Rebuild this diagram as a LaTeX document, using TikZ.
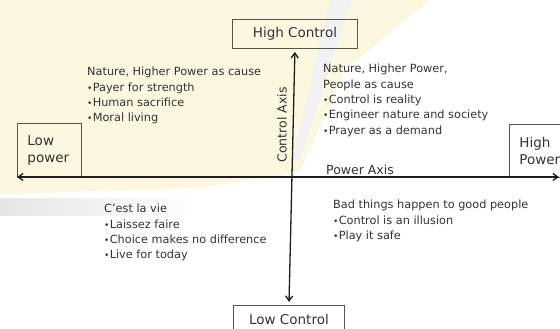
\documentclass[tikz,border=0pt]{standalone}
\usepackage{fontspec}
\setmainfont{DejaVu Sans}
\usetikzlibrary{arrows.meta}
\definecolor{cream}{HTML}{FBF8DF}
\definecolor{txt}{HTML}{333333}
\definecolor{edgec}{HTML}{55554C}
\definecolor{axisc}{HTML}{1E1E1E}
\newcommand{\bulletmark}{{\fontsize{9}{9}\selectfont•}\kern0.3pt}
\begin{document}
\begin{tikzpicture}[x=1pt,y=-1pt,
  box/.style={draw=edgec, line width=0.9pt, fill=none, text=txt, inner sep=0pt,
    font=\fontsize{13.5}{17}\selectfont},
  body/.style={text=txt, inner sep=0pt, anchor=north west, align=left,
    font=\fontsize{11.3}{15.4}\selectfont},
  axislabel/.style={text=txt, inner sep=0pt, font=\fontsize{12.5}{15}\selectfont},
  axisline/.style={draw=axisc, line width=1.3pt, {Straight Barb[length=5pt,width=7pt]}-{Straight Barb[length=5pt,width=7pt]}}]
\useasboundingbox (0,0) rectangle (560,329);
\clip (0,0) rectangle (560,329);
% background
\fill[white] (0,0) rectangle (560,329);
\fill[cream] (0,0) -- (430,0) -- (345,70) -- (300,172) -- (200,188) -- (0,194) -- cycle;
\shade[left color=black!10, right color=white] (0,198) rectangle (200,215);
\fill[black!5] (330,0) -- (352,0) -- (300,160) -- (292,160) -- cycle;
% boxes
\node[box, minimum width=125pt, minimum height=29pt, anchor=north west] (hc) at (232,19) {High Control};
\node[box, minimum width=111pt, minimum height=29pt, anchor=north west] (lc) at (233,305) {Low Control};
\node[box, minimum width=64pt, minimum height=54pt, anchor=north west, align=left,
  text width=44pt, inner xsep=10pt] (lp) at (17,123) {Low\\power};
\node[box, minimum width=72pt, minimum height=53pt, anchor=north west, align=left,
  text width=52pt, inner xsep=10pt] (hp) at (509,124) {High\\Power};
% axes
\coordinate (L) at (17,177);
\coordinate (R) at (559,177);
\draw[axisline] (L) -- (R);
\draw[axisline, shorten <=3pt, shorten >=3pt] (lc.north) -- (hc.south);
\node[axislabel, rotate=90] (ca) at (282,125) {Control Axis};
\node[axislabel] (pa) at (360,170) {Power Axis};
% quadrant texts
\node[body] (q1) at (87,67) {Nature, Higher Power as cause\\\bulletmark Payer for strength\\\bulletmark Human sacrifice\\\bulletmark Moral living};
\node[body] (q2) at (323,64) {Nature, Higher Power,\\People as cause\\\bulletmark Control is reality\\\bulletmark Engineer nature and society\\\bulletmark Prayer as a demand};
\node[body] (q3) at (104,204) {C’est la vie\\\bulletmark Laissez faire\\\bulletmark Choice makes no difference\\\bulletmark Live for today};
\node[body] (q4) at (333,200) {Bad things happen to good people\\\bulletmark Control is an illusion\\\bulletmark Play it safe};
\end{tikzpicture}
\end{document}
